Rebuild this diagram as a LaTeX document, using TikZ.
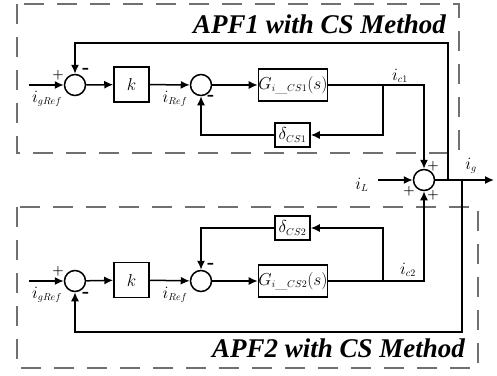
\documentclass[tikz,border=0pt]{standalone}
\usepackage{fontspec}
\newfontfamily\titlefont{Liberation Serif}
\usetikzlibrary{arrows.meta}
\DeclareMathSizes{17.28}{17.28}{10}{8}
\definecolor{boxgray}{RGB}{112,112,112}
\tikzset{
  sumnode/.style={circle, draw, line width=1.5pt, minimum size=21pt, inner sep=0pt},
  blk/.style={draw, line width=1.5pt, inner sep=0pt},
  sig/.style={line width=1.5pt, -{Latex[length=9pt,width=8pt]}},
  wire/.style={line width=1.5pt},
  apfbox/.style={draw=boxgray, line width=2.8pt, dash pattern=on 20pt off 13pt},
  sign/.style={font=\fontsize{13}{13}\selectfont\bfseries, inner sep=0pt},
  minus/.style={font=\fontsize{19}{19}\selectfont\bfseries, inner sep=0pt},
  lbl/.style={font=\fontsize{17.28}{19}\selectfont, inner sep=0pt},
  apftitle/.style={font=\fontsize{27}{29}\selectfont\titlefont\bfseries\itshape, inner sep=0pt}
}
\begin{document}
\begin{tikzpicture}[x=1pt, y=-1pt]
    \useasboundingbox (0,0) rectangle (497,375);

    % Dashed boxes
    \draw[apfbox] (17,4) rectangle (459,153);
    \draw[apfbox] (17,207) rectangle (478,368);
    \node[apftitle] (t1) at (319.5,24) {APF1 with CS Method};
    \node[apftitle] (t2) at (338.5,348) {APF2 with CS Method};

    % Upper loop: APF1
    \node[sumnode] (s1a) at (75,85) {};
    \node[blk, lbl, minimum width=35pt, minimum height=35pt] (ka) at (131.5,84.5) {$k$};
    \node[sumnode] (s2a) at (201,85) {};
    \node[blk, lbl, minimum width=68pt, minimum height=32pt] (ga) at (293,85) {$G_{i\_CS1}(s)$};
    \node[blk, lbl, minimum width=35pt, minimum height=24pt] (da) at (292.5,135) {$\delta_{CS1}$};
    \coordinate (ina) at (29,85);
    \coordinate (bra) at (383,85);

    % Lower loop: APF2
    \node[sumnode] (s1b) at (75,281) {};
    \node[blk, lbl, minimum width=35pt, minimum height=35pt] (kb) at (131.5,280) {$k$};
    \node[sumnode] (s2b) at (201,281) {};
    \node[blk, lbl, minimum width=68pt, minimum height=32pt] (gb) at (293,281) {$G_{i\_CS2}(s)$};
    \node[blk, lbl, minimum width=35pt, minimum height=24pt] (db) at (292.5,228) {$\delta_{CS2}$};
    \coordinate (inb) at (29,281);
    \coordinate (brb) at (383,281);

    % Output summing junction
    \node[sumnode] (s3) at (424,180) {};
    \coordinate (inl) at (378,180);
    \coordinate (out) at (494,180);
    \coordinate (tapa) at (448,180);
    \coordinate (tapb) at (462,180);
    \coordinate (cornera) at (75,43);
    \coordinate (cornerb) at (75,332);

    % Forward paths
    \draw[sig] (ina) -- (s1a);
    \draw[sig] (s1a) -- (ka);
    \draw[sig] (ka) -- (s2a);
    \draw[sig] (s2a) -- (ga);
    \draw[sig] (ga) -| (s3);
    \draw[sig] (inb) -- (s1b);
    \draw[sig] (s1b) -- (kb);
    \draw[sig] (kb) -- (s2b);
    \draw[sig] (s2b) -- (gb);
    \draw[sig] (gb) -| (s3);
    \draw[sig] (inl) -- (s3);
    \draw[sig] (s3) -- (out);

    % Inner feedback
    \draw[sig] (bra) |- (da);
    \draw[sig] (da) -| (s2a);
    \draw[sig] (brb) |- (db);
    \draw[sig] (db) -| (s2b);

    % Outer feedback
    \draw[sig] (tapa) |- (cornera) -- (s1a);
    \draw[sig] (tapb) |- (cornerb) -- (s1b);

    % Labels
    \node[lbl] (lga) at (47,99) {$i_{gRef}$};
    \node[lbl] (lra) at (175,99) {$i_{Ref}$};
    \node[lbl] (lca) at (400,76) {$i_{c1}$};
    \node[lbl] (lgb) at (47,295) {$i_{gRef}$};
    \node[lbl] (lrb) at (175,295) {$i_{Ref}$};
    \node[lbl] (lcb) at (408,270) {$i_{c2}$};
    \node[lbl] (ll) at (362,185) {$i_L$};
    \node[lbl] (lg) at (471,166) {$i_g$};

    % Signs
    \node[sign] (p1a) at (58,75) {+};
    \node[minus] (m1a) at (86,71) {-};
    \node[minus] (m2a) at (211,98) {-};
    \node[sign] (p1b) at (58,271) {+};
    \node[minus] (m1b) at (86,295) {-};
    \node[minus] (m2b) at (211,266) {-};
    \node[sign] (p3a) at (433,166) {+};
    \node[sign] (p3l) at (409,191) {+};
    \node[sign] (p3b) at (433,195) {+};
\end{tikzpicture}
\end{document}
